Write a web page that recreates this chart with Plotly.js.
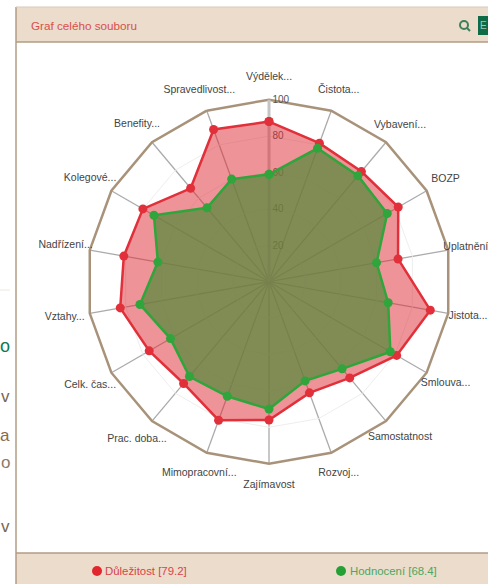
<!DOCTYPE html>
<html>
<head>
<meta charset="utf-8">
<script src="https://cdn.plot.ly/plotly-3.0.0.min.js"></script>
<style>html,body{margin:0;padding:0;background:#fff;overflow:hidden}#c{width:488px;height:584px}</style>
</head>
<body>
<div id="c"></div>
<script>
const categories = ["Výdělek...","Čistota...","Vybavení...","BOZP","Uplatnění","Jistota...","Smlouva...","Samostatnost","Rozvoj...","Zajímavost","Mimopracovní...","Prac. doba...","Celk. čas...","Vztahy...","Nadřízení...","Kolegové...","Benefity...","Spravedlivost..."];
const importance = [88,81,79,82,72,90,81,69,65,76,81,73,76,83,81,80,67,89];
const rating = [59,78,76,75,60,66.5,77,62.5,58,70,67,68,62.5,72,62,73,53,60];
const radialTicks = [20,40,60,80,100];
const labelRadii = [112,112,112,112,109.8,111,112,112,112,112,112,112.8,113.5,114,113.5,113.5,112.8,112];
const importanceName = "Důležitost [79.2]";
const ratingName = "Hodnocení [68.4]";
const panelTitle = "Graf celého souboru";

const W = 488, H = 584, CX = 269, CY = 281.7, R = 182, LABEL_RANGE = 120;
const px = x => x / W, py = y => 1 - y / H;
const closed = a => a.concat([a[0]]);

function series(name, vals, line, fill) {
  return {
    type: "scatterpolar", name: name, mode: "lines+markers",
    r: closed(vals), theta: closed(categories), fill: "toself", fillcolor: fill,
    line: {color: line, width: 2.5}, marker: {color: line, size: 9},
    cliponaxis: false, hoverinfo: "skip"
  };
}
const traces = [
  series(importanceName, importance, "#e2303a", "rgba(222,40,50,0.5)"),
  series(ratingName, rating, "#2fa53c", "rgba(90,138,62,0.74)"),
  {
    type: "scatterpolar", subplot: "polar2", mode: "text", r: labelRadii, theta: categories,
    text: categories, textposition: "middle center",
    textfont: {family: "Liberation Sans, Arial, sans-serif", size: 10.5, color: "#444"},
    cliponaxis: false, hoverinfo: "skip", name: "popisky"
  }
];
const TAN = "#ecdccb", EDGE = "#b29c84";
const shapes = [
  {type:"rect",xref:"paper",yref:"paper",x0:px(16),x1:px(500),y0:py(7),y1:py(42),fillcolor:TAN,line:{width:0},layer:"below"},
  {type:"rect",xref:"paper",yref:"paper",x0:px(16),x1:px(500),y0:py(553),y1:py(600),fillcolor:TAN,line:{width:0},layer:"below"},
  {type:"line",xref:"paper",yref:"paper",x0:px(16),x1:px(16),y0:py(7),y1:py(584),line:{color:EDGE,width:1.5}},
  {type:"line",xref:"paper",yref:"paper",x0:px(16),x1:px(488),y0:py(42),y1:py(42),line:{color:EDGE,width:1.5}},
  {type:"line",xref:"paper",yref:"paper",x0:px(16),x1:px(488),y0:py(7),y1:py(7),line:{color:"#d9c9b8",width:1}},
  {type:"line",xref:"paper",yref:"paper",x0:px(16),x1:px(488),y0:py(553),y1:py(553),line:{color:EDGE,width:1.5}},
  {type:"line",xref:"paper",yref:"paper",x0:0,x1:px(10),y0:py(290),y1:py(290),line:{color:"#eee6e0",width:1}},
  {type:"circle",xref:"paper",yref:"paper",x0:px(92),x1:px(102),y0:py(566),y1:py(576),fillcolor:"#e2262e",line:{width:0}},
  {type:"circle",xref:"paper",yref:"paper",x0:px(336),x1:px(346),y0:py(566),y1:py(576),fillcolor:"#26a035",line:{width:0}},
  {type:"circle",xref:"paper",yref:"paper",x0:px(460),x1:px(468),y0:py(21),y1:py(29),fillcolor:"rgba(0,0,0,0)",line:{color:"#3f7f5a",width:2}},
  {type:"line",xref:"paper",yref:"paper",x0:px(467),x1:px(470),y0:py(28),y1:py(31),line:{color:"#3f7f5a",width:2}},
  {type:"rect",xref:"paper",yref:"paper",x0:px(478),x1:px(495),y0:py(16),y1:py(35),fillcolor:"#0f6b45",line:{width:0}}
];
const ann = (x, y, text, size, color, anchor) => ({
  xref:"paper", yref:"paper", x:px(x), y:py(y), text:text, showarrow:false,
  xanchor:anchor, yanchor:"middle", borderpad:0,
  font:{family:"Liberation Sans, Arial, sans-serif", size:size, color:color}
});
const annotations = [
  ann(30,25,panelTitle,11.7,"#d8504c","left"),
  ann(104,571,importanceName,11.4,"#d8444a","left"),
  ann(349,571,ratingName,11.4,"#4aa860","left"),
  ann(479,25,"E",10,"#9fc9b0","left"),
  ann(11,346,"o",18,"#0f7a50","right"),
  ann(11,396,"v",17,"#7a6650","right"),
  ann(11,435,"a",17,"#8a6a4a","right"),
  ann(11,462,"o",17,"#8a7a6a","right"),
  ann(11,526,"v",17,"#7a6650","right")
];
const layout = {
  width: W, height: H, margin: {l:0,r:0,t:0,b:0}, paper_bgcolor: "#fff", showlegend: false,
  shapes: shapes, annotations: annotations,
  polar: {
    domain: {x:[px(CX-R), px(CX+R)], y:[py(CY+R), py(CY-R)]},
    bgcolor: "rgba(0,0,0,0)", gridshape: "linear",
    angularaxis: {
      type:"category", categoryorder:"array", categoryarray:categories,
      rotation:90, direction:"clockwise", showticklabels:false, ticks:"",
      showline:true, linecolor:"#a8937a", linewidth:2.5, layer:"below traces",
      showgrid:true, gridcolor:"#ababab", gridwidth:1.3
    },
    radialaxis: {
      range:[0,100], angle:90, tickangle:90, side:"clockwise", tickvals:radialTicks, ticks:"",
      showline:true, linecolor:"#c4c4c4", linewidth:3, layer:"below traces",
      showgrid:true, gridcolor:"#eeeeee", gridwidth:1,
      tickfont:{family:"Liberation Sans, Arial, sans-serif", size:10, color:"#555"}
    }
  },
  polar2: {
    domain: {x:[px(CX-R*LABEL_RANGE/100), px(CX+R*LABEL_RANGE/100)], y:[py(CY+R*LABEL_RANGE/100), py(CY-R*LABEL_RANGE/100)]},
    bgcolor: "rgba(0,0,0,0)",
    angularaxis: {type:"category", categoryorder:"array", categoryarray:categories, rotation:90, direction:"clockwise", visible:false},
    radialaxis: {range:[0,LABEL_RANGE], visible:false}
  }
};
Plotly.newPlot("c", traces, layout, {displayModeBar:false, staticPlot:true});
</script>
</body>
</html>
